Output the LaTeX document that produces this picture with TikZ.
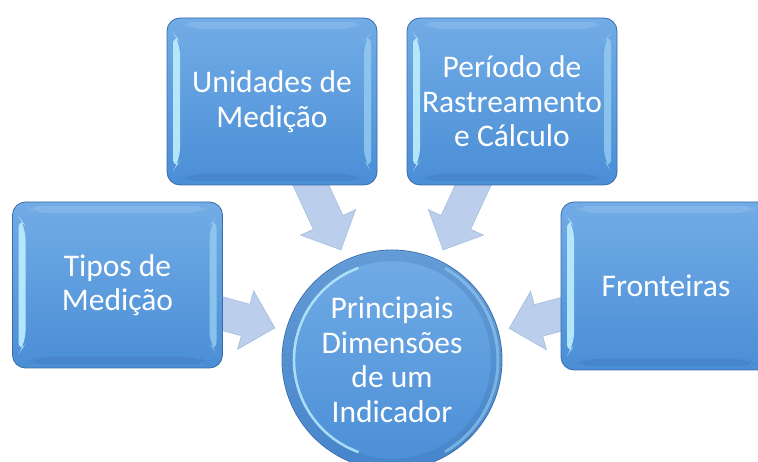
\documentclass[tikz,border=0pt]{standalone}
\usepackage{fontspec}
\setmainfont{Carlito}
\usetikzlibrary{calc,shapes.arrows,backgrounds}
\definecolor{boxtop}{RGB}{114,172,230}
\definecolor{boxbot}{RGB}{74,142,214}
\definecolor{boxedge}{RGB}{58,108,168}
\definecolor{bevlight}{RGB}{185,235,252}
\definecolor{bevright}{RGB}{150,205,240}
\definecolor{arrfill}{RGB}{187,206,236}
\definecolor{arredge}{RGB}{165,188,222}
\tikzset{
 dimbox/.style={draw=boxedge, line width=0.8pt, rounded corners=13pt,
   top color=boxtop, bottom color=boxbot,
   minimum width=210pt, minimum height=167pt, text=white, align=center,
   font=\fontsize{31.5}{34.5}\selectfont, inner sep=0pt,
   path picture={
     \fill[bevlight, opacity=0.95]
       ($(path picture bounding box.north west)+(6,14)$) --
       ($(path picture bounding box.north west)+(13,24)$) --
       ($(path picture bounding box.south west)+(13,-24)$) --
       ($(path picture bounding box.south west)+(6,-14)$) -- cycle;
     \fill[bevright, opacity=0.8]
       ($(path picture bounding box.north east)+(-6,14)$) --
       ($(path picture bounding box.north east)+(-13,24)$) --
       ($(path picture bounding box.south east)+(-13,-24)$) --
       ($(path picture bounding box.south east)+(-6,-14)$) -- cycle;
     \fill[white, opacity=0.12]
       ($(path picture bounding box.north west)+(14,4)$) --
       ($(path picture bounding box.north east)+(-14,4)$) --
       ($(path picture bounding box.north east)+(-22,11)$) --
       ($(path picture bounding box.north west)+(22,11)$) -- cycle;
     \fill[boxedge, opacity=0.25]
       ($(path picture bounding box.south west)+(14,-4)$) --
       ($(path picture bounding box.south east)+(-14,-4)$) --
       ($(path picture bounding box.south east)+(-22,-11)$) --
       ($(path picture bounding box.south west)+(22,-11)$) -- cycle;
   }},
 hub/.style={circle, draw=boxedge, line width=0.8pt,
   top color=boxtop, bottom color=boxbot,
   minimum size=220pt, text=white, align=center,
   font=\fontsize{31.5}{34.5}\selectfont, inner sep=0pt,
   path picture={
     \draw[boxedge, opacity=0.25, line width=10pt]
       (path picture bounding box.center) circle[radius=104];
     \draw[bevlight, opacity=0.85, line width=2.5pt]
       ($(path picture bounding box.center)+(110:98)$) arc[start angle=110, end angle=250, radius=98];
     \draw[bevright, opacity=0.6, line width=3pt]
       ($(path picture bounding box.center)+(-60:106)$) arc[start angle=-60, end angle=60, radius=106];
   }},
 bigarrow/.style={single arrow, draw=arredge, fill=arrfill, line width=0.6pt,
   inner xsep=0pt, inner ysep=16pt, single arrow head extend=14pt}
}
\newcommand\blockarrow[2]{%
  \path let \p1=(#1), \p2=(#2), \n1={atan2(\y2-\y1,\x2-\x1)},
    \n2={veclen(\x2-\x1,\y2-\y1)} in
    node[bigarrow, rotate=\n1, minimum height=\n2, anchor=tip] at (#2) {};}
\begin{document}
\begin{tikzpicture}[x=1pt,y=-1pt]
\useasboundingbox (0,0) rectangle (758,462);
\clip (0,0) rectangle (758,462);
\node[dimbox] (unid) at (272,101.5) {Unidades de\\Medição};
\node[dimbox] (per) at (512,101.5) {Período de\\Rastreamento\\e Cálculo};
\node[dimbox, minimum height=166pt] (tipos) at (117.5,285) {Tipos de\\Medição};
\node[dimbox, minimum height=168pt] (front) at (666,286) {Fronteiras};
\node[hub] (circ) at (392,360) {Principais\\Dimensões\\de um\\Indicador};
\begin{scope}[on background layer]
\coordinate (t1) at ($(circ.center)!121pt!(unid.center)$);
\coordinate (t2) at ($(circ.center)!121pt!(per.center)$);
\coordinate (t3) at ($(circ.center)!121pt!(tipos.center)$);
\coordinate (t4) at ($(circ.center)!121pt!(front.center)$);
\blockarrow{unid.center}{t1}
\blockarrow{per.center}{t2}
\blockarrow{tipos.center}{t3}
\blockarrow{front.center}{t4}
\end{scope}
\end{tikzpicture}
\end{document}
